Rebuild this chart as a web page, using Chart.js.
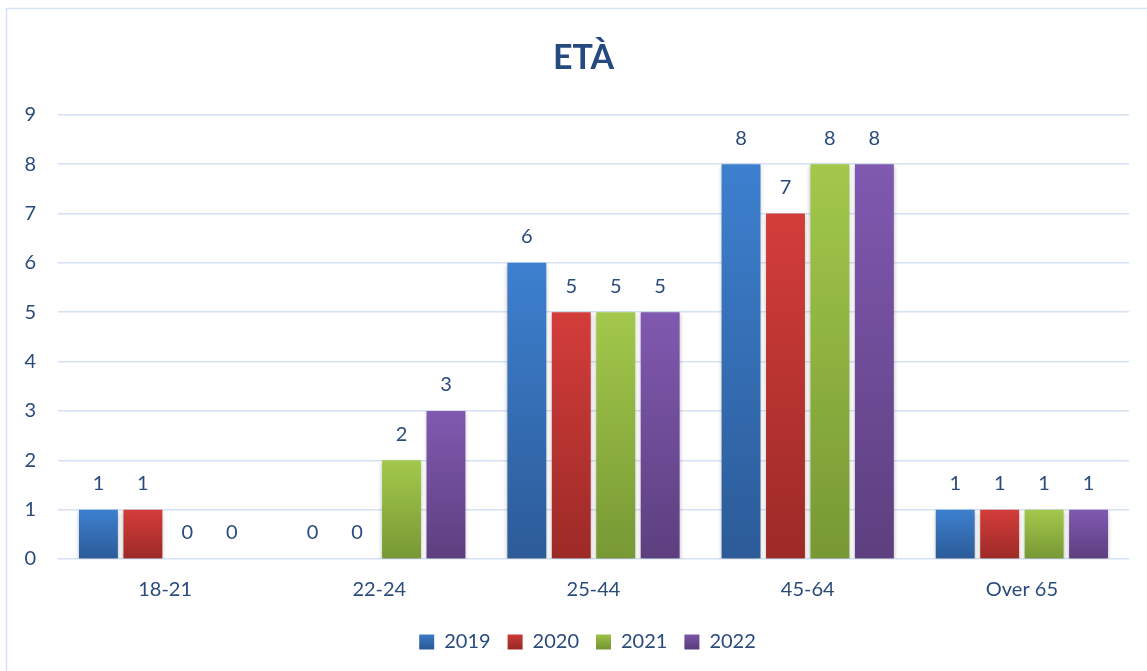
<!DOCTYPE html>
<html>
<head>
<meta charset="utf-8">
<script src="https://cdn.jsdelivr.net/npm/chart.js@4.4.0/dist/chart.umd.min.js"></script>
<style>
html,body{margin:0;padding:0;background:#fff;}
#wrap{width:1147px;height:671px;position:relative;}
</style>
</head>
<body>
<div id="wrap"><canvas id="c" width="1147" height="671"></canvas></div>
<script>
const categories = ["18-21", "22-24", "25-44", "45-64", "Over 65"];
const seriesNames = ["2019", "2020", "2021", "2022"];
const values2019 = [1, 0, 6, 8, 1];
const values2020 = [1, 0, 5, 7, 1];
const values2021 = [0, 2, 5, 8, 1];
const values2022 = [0, 3, 5, 8, 1];
const yTicks = [0, 1, 2, 3, 4, 5, 6, 7, 8, 9];

const gradStops = [
  ["#3D80CF", "#2C5B98"],
  ["#D33D3A", "#9C2A27"],
  ["#A3C84B", "#779834"],
  ["#8059B0", "#5D3F7F"]
];
const textColor = "#2A4B7C";
const fontFamily = "Lato, 'Open Sans', sans-serif";

function gradFor(i) {
  return function(ctx) {
    const chart = ctx.chart;
    const ys = chart.scales && chart.scales.y;
    if (!ys || ctx.type !== 'data') return gradStops[i][0];
    const v = ctx.raw || 0;
    const top = ys.getPixelForValue(v);
    const bottom = ys.getPixelForValue(0);
    if (!isFinite(top) || !isFinite(bottom) || top === bottom) return gradStops[i][0];
    const g = chart.ctx.createLinearGradient(0, top, 0, bottom);
    g.addColorStop(0, gradStops[i][0]);
    g.addColorStop(1, gradStops[i][1]);
    return g;
  };
}

const allSeries = [values2019, values2020, values2021, values2022];

const framePlugin = {
  id: 'frame',
  beforeDraw(chart) {
    const c = chart.ctx;
    c.save();
    c.strokeStyle = "#D6E2F3";
    c.lineWidth = 1.5;
    c.strokeRect(6.5, 8.5, 1200, 700);
    c.restore();
  }
};

const shiftPlugin = {
  id: 'shiftBoxes',
  afterLayout(chart) {
    if (chart.titleBlock) { chart.titleBlock.left += 32; }
    if (chart.legend) { chart.legend.left += 40; }
  }
};

const shadowPlugin = {
  id: 'barShadow',
  beforeDatasetsDraw(chart) {
    const c = chart.ctx;
    c.save();
    c.shadowColor = "rgba(0,0,0,0.28)";
    c.shadowBlur = 4;
    c.shadowOffsetY = 2;
  },
  afterDatasetsDraw(chart) {
    chart.ctx.restore();
  }
};

const labelPlugin = {
  id: 'valueLabels',
  afterDraw(chart) {
    const c = chart.ctx;
    c.save();
    c.font = "20px " + fontFamily;
    c.fillStyle = textColor;
    c.textAlign = "center";
    c.textBaseline = "middle";
    chart.data.datasets.forEach((ds, di) => {
      const meta = chart.getDatasetMeta(di);
      meta.data.forEach((bar, i) => {
        c.fillText(String(ds.data[i]), bar.x, bar.y - 26);
      });
    });
    c.restore();
  }
};

new Chart(document.getElementById('c'), {
  type: 'bar',
  data: {
    labels: categories,
    datasets: allSeries.map((vals, i) => ({
      label: seriesNames[i],
      data: vals,
      backgroundColor: gradFor(i),
      borderWidth: 0,
      categoryPercentage: 0.83,
      barPercentage: 0.875
    }))
  },
  options: {
    responsive: false,
    animation: false,
    devicePixelRatio: 1,
    layout: { padding: { top: 8, left: 6, right: 18, bottom: 9 } },
    plugins: {
      title: {
        display: true,
        text: "ETÀ",
        color: "#254A80",
        font: { family: fontFamily, size: 34, weight: 'bold' },
        padding: { top: 30, bottom: 36 }
      },
      legend: {
        position: 'bottom',
        labels: {
          boxWidth: 15,
          boxHeight: 15,
          padding: 17,
          color: textColor,
          font: { family: fontFamily, size: 20 },
          generateLabels(chart) {
            return chart.data.datasets.map((ds, i) => ({
              text: ds.label,
              fillStyle: (function(){
                const g = chart.ctx.createLinearGradient(0, 632, 0, 648);
                g.addColorStop(0, gradStops[i][0]);
                g.addColorStop(1, gradStops[i][1]);
                return g;
              })(),
              strokeStyle: 'rgba(0,0,0,0)',
              lineWidth: 0,
              fontColor: textColor,
              datasetIndex: i,
              hidden: false
            }));
          }
        }
      },
      tooltip: { enabled: false }
    },
    scales: {
      x: {
        afterFit(scale) { scale.height = scale.height - 6; },
        grid: { display: false, drawTicks: false },
        border: { display: false },
        ticks: { color: textColor, font: { family: fontFamily, size: 20 }, padding: 19 }
      },
      y: {
        min: 0,
        max: 9,
        afterFit(scale) { scale.width = 52; },
        afterBuildTicks(scale) { scale.ticks = yTicks.map(v => ({ value: v })); },
        grid: { color: "#D6E2F3", lineWidth: 1.5, drawTicks: false },
        border: { display: false },
        ticks: { color: textColor, font: { family: fontFamily, size: 20 }, padding: 22 }
      }
    }
  },
  plugins: [framePlugin, shiftPlugin, shadowPlugin, labelPlugin]
});
</script>
</body>
</html>
